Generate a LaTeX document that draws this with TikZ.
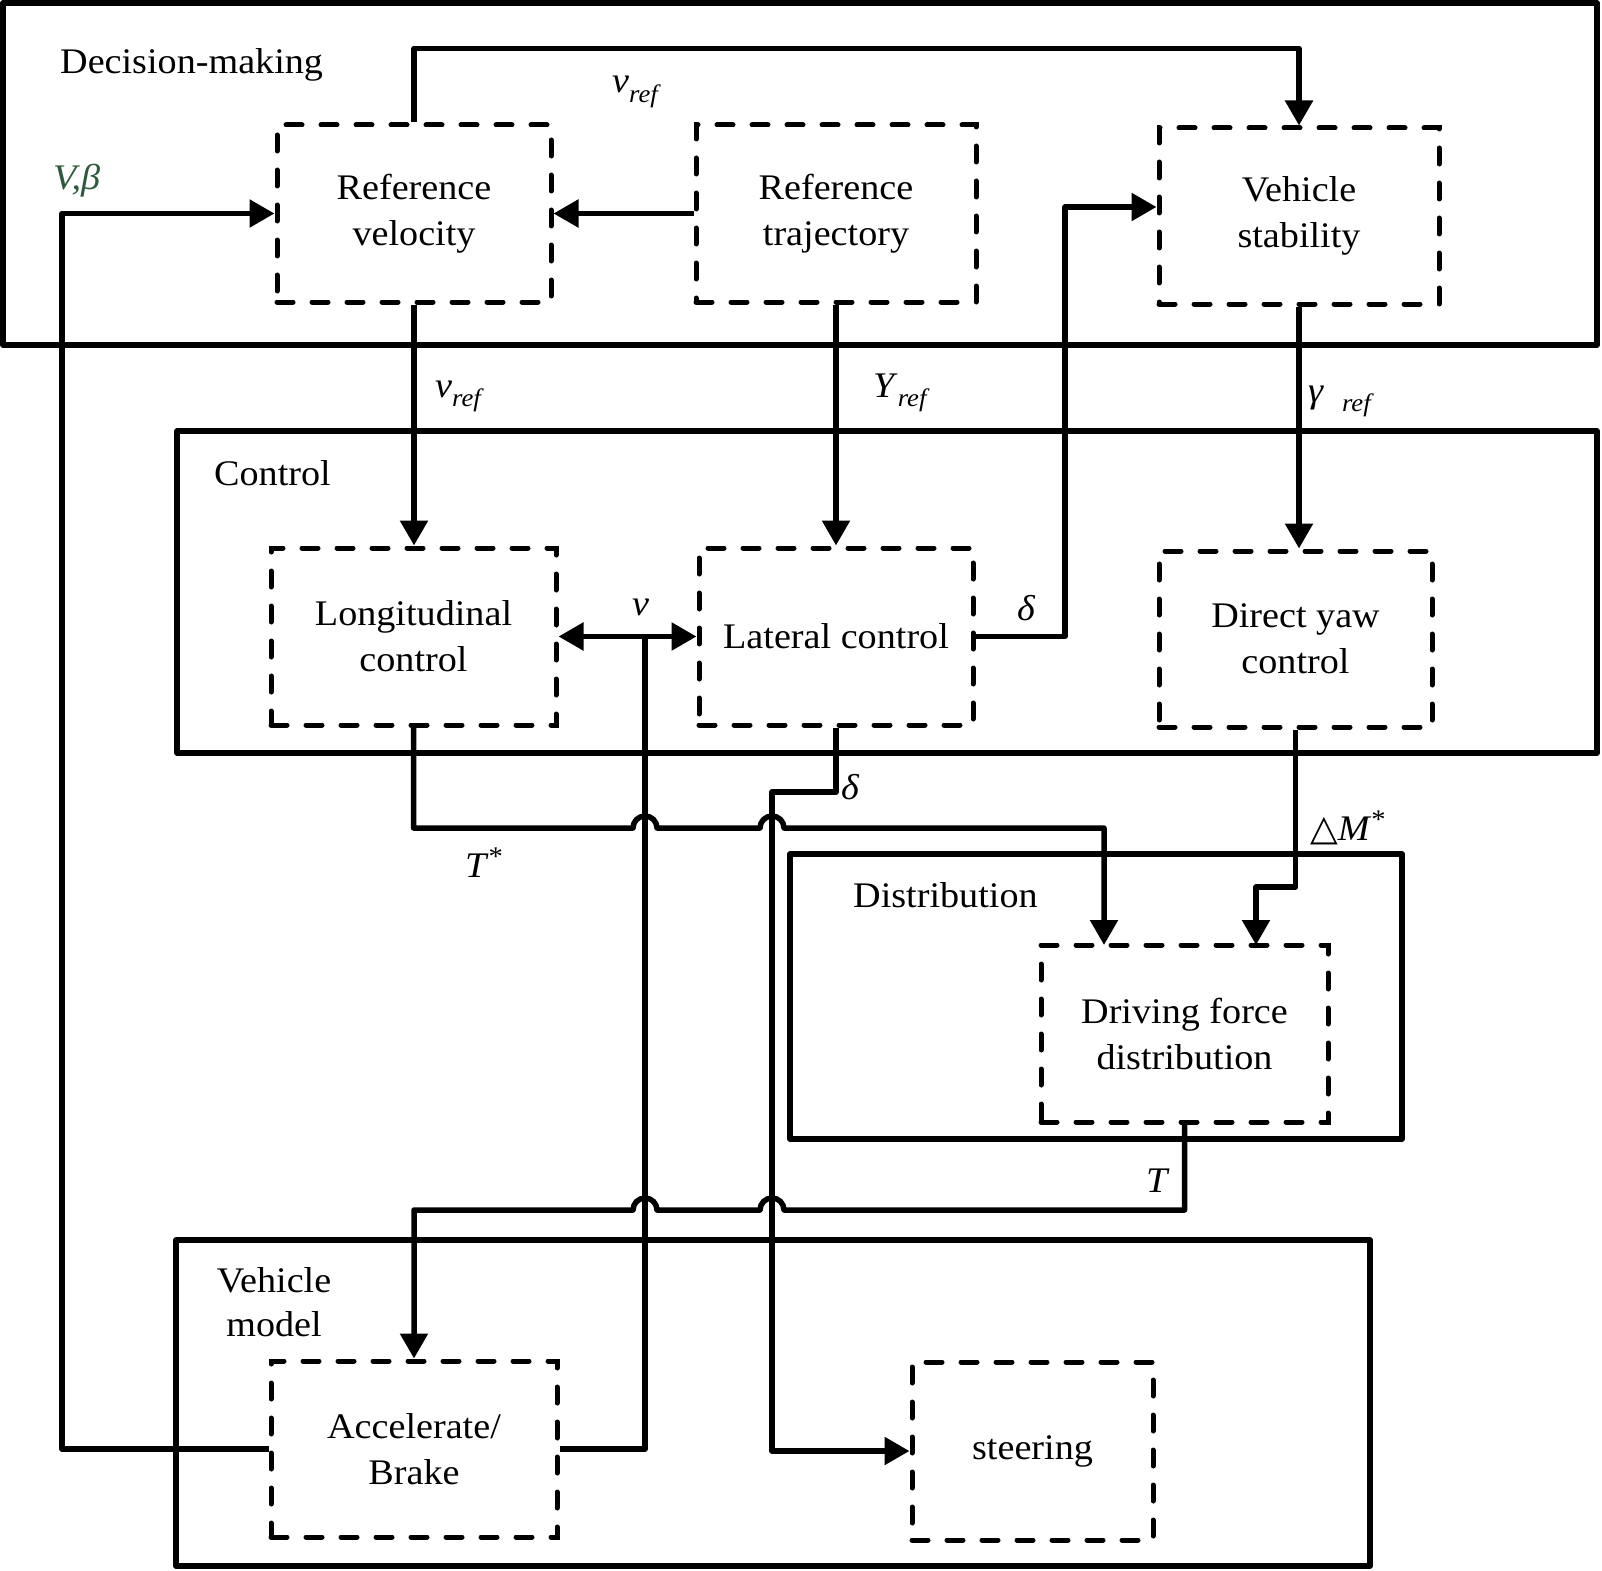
\documentclass[tikz,border=0pt]{standalone}
\usepackage{fontspec}
\setmainfont{Liberation Serif}[FakeStretch=1.06]
\newfontfamily\symf{DejaVu Sans}
\usetikzlibrary{arrows.meta}
\definecolor{vbgreen}{RGB}{45,90,60}
\newcommand\lab[2]{\textit{#1}\textsubscript{\textit{#2}}}
\newcommand\astsup{\raisebox{2pt}{\textsuperscript{\fontsize{27}{27}\selectfont *}}}
\begin{document}
\begin{tikzpicture}[x=1pt,y=-1pt,
  grp/.style={draw,line width=5.5pt,line join=round},
  blk/.style={draw,line width=5pt,line cap=round,dash pattern=on 16pt off 19pt,inner sep=0pt,align=center,font=\fontsize{36}{46}\selectfont},
  conn/.style={line width=5.5pt,line join=round,-{Triangle[length=25pt,width=27pt]}},
  dconn/.style={line width=5.5pt,{Triangle[length=25pt,width=27pt]}-{Triangle[length=25pt,width=27pt]}},
  wire/.style={line width=5.5pt,line join=round},
  gl/.style={font=\fontsize{36}{44}\selectfont,inner sep=0pt},
  sig/.style={font=\fontsize{36}{40}\selectfont,inner sep=0pt,anchor=base west}]
\useasboundingbox[fill=white] (0,0) rectangle (1602,1570);

% group boxes
\draw[grp] (3,3) rectangle (1597,345);
\draw[grp] (177,431) rectangle (1597,753);
\draw[grp] (790,854) rectangle (1402,1139);
\draw[grp] (176,1240) rectangle (1370,1566);

\node[gl,anchor=base west] (gdm) at (60,74) {Decision-making};
\node[gl,anchor=base west] (gc) at (214,485) {Control};
\node[gl,anchor=base west] (gd) at (853,907) {Distribution};
\node[gl,align=center] (gv) at (274,1302) {Vehicle\\model};

% blocks
\node[blk,minimum width=274pt,minimum height=177pt] (rv) at (414,213.5) {Reference\\velocity};
\node[blk,minimum width=280pt,minimum height=177pt] (rt) at (836,213.5) {Reference\\trajectory};
\node[blk,minimum width=280pt,minimum height=176pt] (vs) at (1299,216) {Vehicle\\stability};
\node[blk,minimum width=285pt,minimum height=177pt] (lo) at (413.5,636.5) {Longitudinal\\control};
\node[blk,minimum width=274pt,minimum height=177pt] (la) at (836,636.5) {Lateral control};
\node[blk,minimum width=273pt,minimum height=176pt] (dy) at (1295.5,639) {Direct yaw\\control};
\node[blk,minimum width=287pt,minimum height=177pt] (df) at (1184.5,1033.5) {Driving force\\distribution};
\node[blk,minimum width=286pt,minimum height=176pt] (ab) at (414,1449) {Accelerate/\\Brake};
\node[blk,minimum width=241pt,minimum height=178pt] (st) at (1032.5,1451) {steering};

% connectors
\draw[conn] (rv.north) -- ++(0,-74) -| (vs.north);
\draw[conn] (ab.west) -- (62,1449) |- (rv.west);
\draw[conn] (rt.west) -- (rv.east);
\draw[conn] (rv.south) -- (rv.south |- lo.north);
\draw[conn] (rt.south) -- (la.north);
\draw[conn] (vs.south) -- (vs.south |- dy.north);
\draw[conn] (la.east) -- (1065,636.5) -- (1065,207) -- (vs.west |- 0,207);
\draw[dconn] (lo.east) -- (la.west);
\draw[wire] (ab.east) -- (645,1449) -- (645,636.5);
\draw[conn] (lo.south) |- (633,828) arc[start angle=180,end angle=360,radius=12] -- (760,828) arc[start angle=180,end angle=360,radius=12] -- (1104,828) -- (1104,945);
\draw[conn] (dy.south) -- (1295.5,887) -- (1256,887) -- (1256,945);
\draw[conn] (df.south) -- (1184.5,1210) -- (784,1210) arc[start angle=0,end angle=-180,radius=12] -- (657,1210) arc[start angle=0,end angle=-180,radius=12] -- (414,1210) -- (ab.north);
\draw[conn] (la.south) -- (836,792) -- (772,792) -- (772,1451) -- (st.west);

% signal labels
\node[sig] (l1) at (612,93) {\lab{v}{ref}};
\node[sig] (l2) at (435,397) {\lab{v}{ref}};
\node[sig] (l3) at (873,397) {\lab{Y}{ref}};
\node[sig] (l4) at (1308,402) {\textit{γ}\hspace{18pt}\textsubscript{\textit{ref}}};
\node[sig] (l5) at (1017,620) {\textit{δ}};
\node[sig] (l6) at (632,615) {\textit{v}};
\node[sig] (l7) at (841,799) {\textit{δ}};
\node[sig] (l8) at (465,877) {\textit{T}\astsup};
\node[sig] (l9) at (1310,840) {{\symf △}\textit{M}\astsup};
\node[sig] (l10) at (1146,1192) {\textit{T}};
\node[sig,text=vbgreen] (l11) at (53,190) {\textit{V,β}};
\end{tikzpicture}
\end{document}
